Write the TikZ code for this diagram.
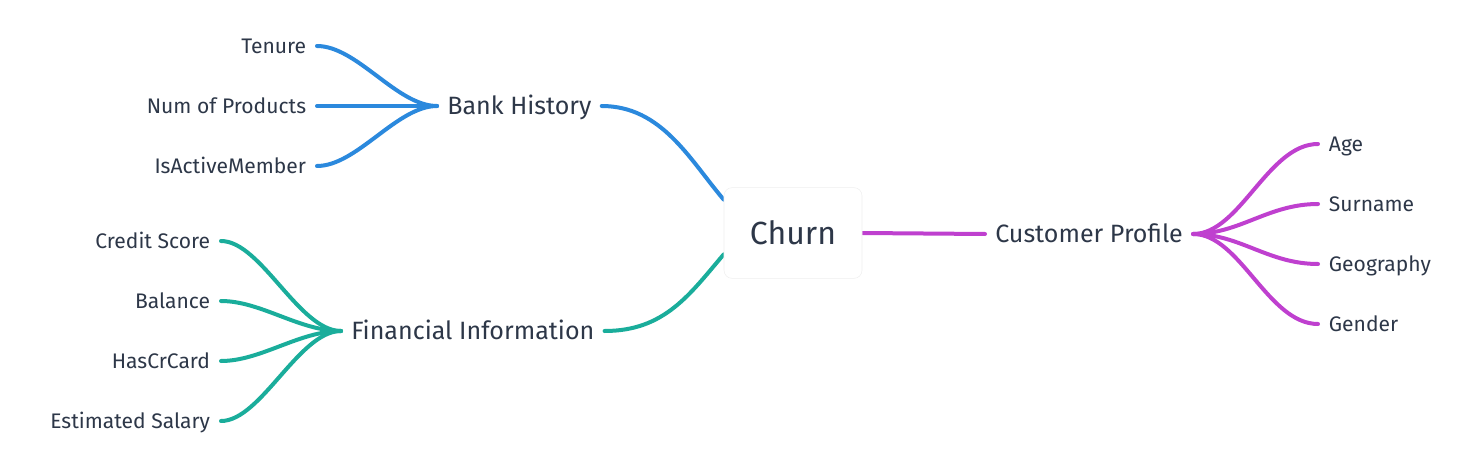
\documentclass[tikz,border=0pt]{standalone}
\usepackage{fontspec}
\setmainfont{Fira Sans}
\usepackage{xcolor}
\usepackage{tikz}
\usetikzlibrary{positioning,backgrounds}
\definecolor{churnblue}{HTML}{2B89DD}
\definecolor{churnteal}{HTML}{1AAD9B}
\definecolor{churnmag}{HTML}{BF40CF}
\definecolor{churntext}{HTML}{2D3748}
\definecolor{churnedge}{HTML}{EFEFEF}

\begin{document}
\begin{tikzpicture}[x=0.75pt,y=-0.75pt,
  root/.style={draw=churnedge,fill=white,rounded corners=6pt,minimum width=103.5pt,minimum height=68pt,font=\fontsize{24}{28}\selectfont,text=churntext},
  branch/.style={inner xsep=7.5pt,inner ysep=0pt,text height=13pt,text depth=0pt,font=\fontsize{18.8}{22}\selectfont,text=churntext},
  leaf/.style={inner xsep=8pt,inner ysep=0pt,text height=10.9pt,text depth=0pt,font=\fontsize{15.8}{19}\selectfont,text=churntext},
  link/.style={line width=3pt,line cap=round}
]
\useasboundingbox (0,0) rectangle (1477,467);

\node[root] (churn) at (793,233) {Churn};

% branches
\node[branch,anchor=west] (bank) at (437,106) {Bank History};
\node[branch,anchor=west] (fin) at (341,331) {Financial Information};
\node[branch,anchor=west] (cust) at (985,234) {Customer Profile};

% leaves
\node[leaf,anchor=east] (tenure) at (317,46) {Tenure};
\node[leaf,anchor=east] (prod) at (317,106) {Num of Products};
\node[leaf,anchor=east] (active) at (317,166) {IsActiveMember};

\node[leaf,anchor=east] (credit) at (221,241) {Credit Score};
\node[leaf,anchor=east] (balance) at (221,301) {Balance};
\node[leaf,anchor=east] (card) at (221,361) {HasCrCard};
\node[leaf,anchor=east] (salary) at (221,421) {Estimated Salary};

\node[leaf,anchor=west] (age) at (1318,144) {Age};
\node[leaf,anchor=west] (surname) at (1318,204) {Surname};
\node[leaf,anchor=west] (geo) at (1318,264) {Geography};
\node[leaf,anchor=west] (gender) at (1318,324) {Gender};

\begin{scope}[on background layer]
\draw[link,churnblue] (bank.east) .. controls +(60,0) and +(-34,-40) .. ([yshift=25pt]churn.west);
\draw[link,churnteal] (fin.east) .. controls +(60,0) and +(-34,40) .. ([yshift=-16pt]churn.west);
\draw[link,churnmag] (churn.east) -- (cust.west);

\foreach \leafname in {tenure,prod,active}
  \draw[link,churnblue] (bank.west) .. controls +(-40,0) and +(40,0) .. (\leafname.east);
\foreach \leafname in {credit,balance,card,salary}
  \draw[link,churnteal] (fin.west) .. controls +(-42,0) and +(40,0) .. (\leafname.east);
\foreach \leafname in {age,surname,geo,gender}
  \draw[link,churnmag] (cust.east) .. controls +(47,0) and +(-50,0) .. (\leafname.west);
\end{scope}
\end{tikzpicture}
\end{document}
